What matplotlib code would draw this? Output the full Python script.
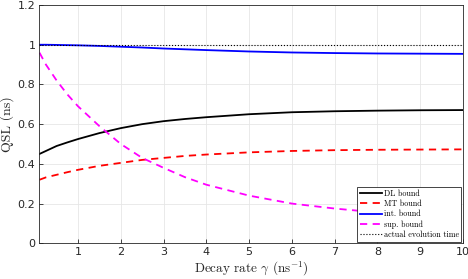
import matplotlib
matplotlib.use("Agg")
import matplotlib.pyplot as plt

# decay rate (ns^-1)
gamma = [0.1, 0.25, 0.5, 0.75, 1, 1.5, 2, 2.5, 3, 3.5, 4, 5, 6, 7, 8, 9, 10]

# QSL values (ns)
dl_bound = [0.45, 0.465, 0.49, 0.508, 0.525, 0.555, 0.58, 0.60, 0.615, 0.626, 0.635, 0.65, 0.66, 0.665, 0.668, 0.67, 0.671]
mt_bound = [0.32, 0.332, 0.345, 0.358, 0.37, 0.39, 0.405, 0.42, 0.43, 0.44, 0.447, 0.458, 0.465, 0.469, 0.471, 0.472, 0.473]
int_bound = [1.0, 1.0, 0.999, 0.998, 0.997, 0.994, 0.99, 0.986, 0.981, 0.977, 0.973, 0.966, 0.961, 0.958, 0.956, 0.955, 0.954]
sup_bound = [0.96, 0.90, 0.82, 0.75, 0.69, 0.59, 0.50, 0.43, 0.38, 0.333, 0.295, 0.24, 0.20, 0.175, 0.155, 0.14, 0.13]
actual_time = [1.0] * len(gamma)

plt.rcParams['mathtext.fontset'] = 'cm'
plt.rcParams['axes.linewidth'] = 0.6
plt.rcParams['axes.unicode_minus'] = False

fig = plt.figure(figsize=(4.68, 2.79), dpi=100)
ax = fig.add_axes([0.0844, 0.128, 0.905, 0.854])

ax.plot(gamma, dl_bound, color='black', lw=1.3, label='DL bound')
ax.plot(gamma, mt_bound, color='red', lw=1.3, ls=(0, (4, 3)), label='MT bound')
ax.plot(gamma, int_bound, color='blue', lw=1.3, label='int. bound')
ax.plot(gamma, sup_bound, color='magenta', lw=1.3, ls=(0, (4, 3)), label='sup. bound')
ax.plot(gamma, actual_time, color='black', lw=0.8, ls=':', label='actual evolution time')

ax.set_xlim(0.1, 10)
ax.set_ylim(0, 1.2)
ax.set_xticks(range(1, 11))
ax.set_yticks([0, 0.2, 0.4, 0.6, 0.8, 1.0, 1.2])
ax.set_yticklabels(['0', '0.2', '0.4', '0.6', '0.8', '1', '1.2'])
ax.tick_params(direction='in', length=3, width=0.6, labelsize=8, colors='#262626', pad=3)
for s in ax.spines.values():
    s.set_color('#262626')
ax.grid(True, color='#e6e6e6', lw=0.6)
ax.set_axisbelow(True)

ax.set_xlabel(r'Decay rate $\gamma$ (ns$^{-1}$)', family='cmr10', fontsize=9.5, color='#262626', labelpad=2)
ax.set_ylabel('QSL (ns)', family='cmr10', fontsize=10, color='#262626')
ax.yaxis.set_label_coords(-0.060, 0.5)

leg = ax.legend(loc='lower right', prop={'family': 'cmr10', 'size': 5.8}, fancybox=False,
                edgecolor='#262626', framealpha=1, handlelength=2.8, handletextpad=0.2,
                borderaxespad=0.2, labelspacing=0.25, borderpad=0.3)
leg.get_frame().set_linewidth(0.6)

fig.savefig('out.png', dpi=100)
